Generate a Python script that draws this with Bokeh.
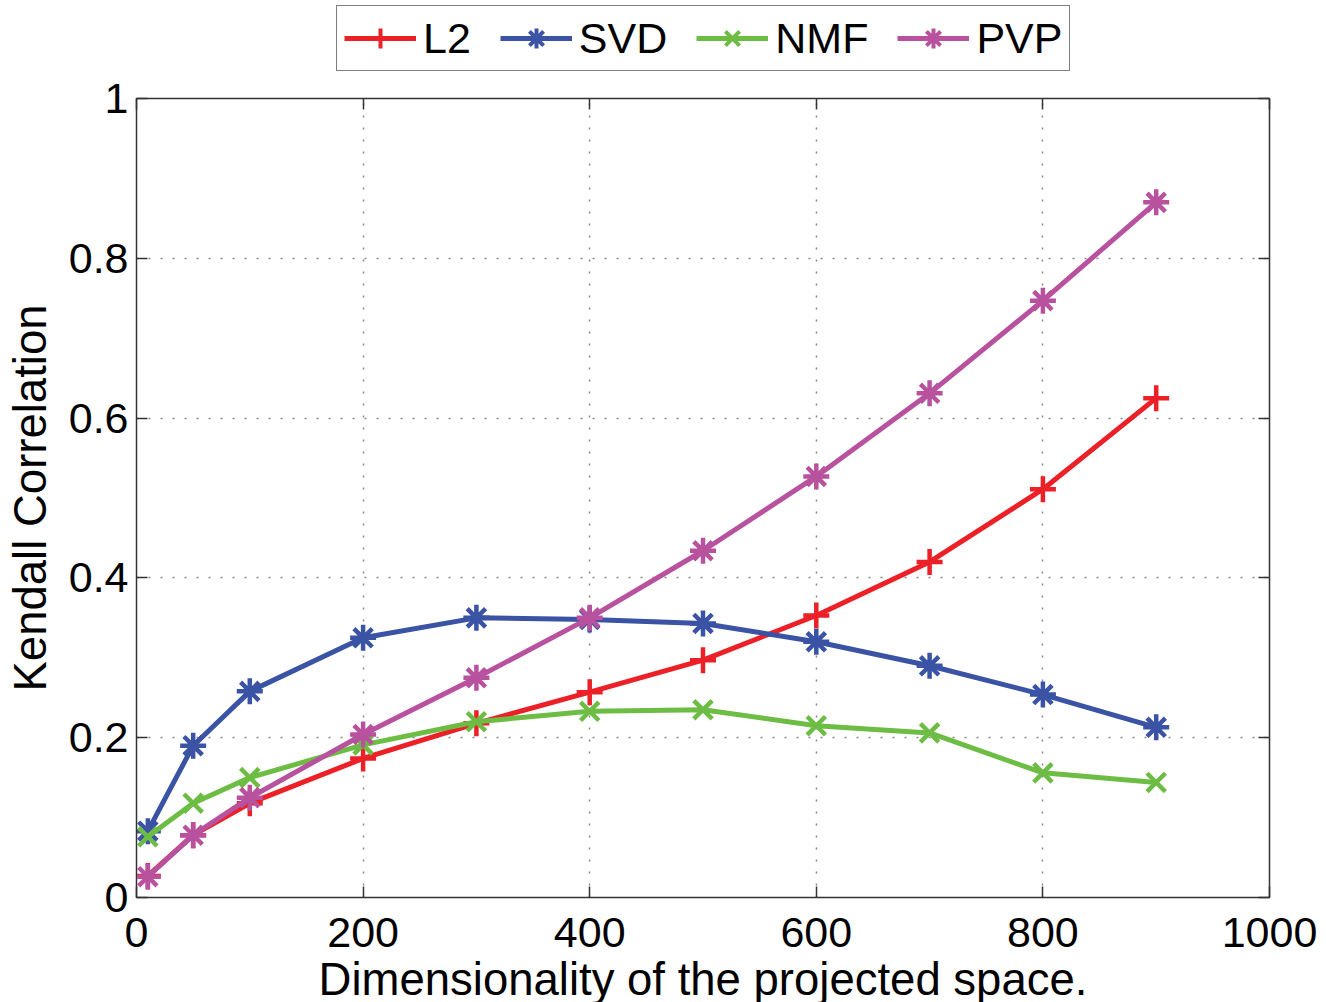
from bokeh.plotting import figure
from bokeh.layouts import column
from bokeh.models import (Legend, LegendItem, FixedTicker, Range1d, LinearAxis,
                          CustomJSTickFormatter)
from bokeh.embed import file_html
from bokeh.resources import INLINE

dims = [10, 50, 100, 200, 300, 400, 500, 600, 700, 800, 900]
l2 = [0.027, 0.078, 0.118, 0.174, 0.218, 0.257, 0.297, 0.353, 0.420, 0.511, 0.625]
svd = [0.083, 0.190, 0.258, 0.325, 0.350, 0.348, 0.343, 0.320, 0.290, 0.254, 0.213]
nmf = [0.076, 0.118, 0.150, 0.191, 0.220, 0.233, 0.235, 0.215, 0.206, 0.156, 0.144]
pvp = [0.026, 0.078, 0.125, 0.204, 0.275, 0.350, 0.434, 0.527, 0.631, 0.747, 0.870]

names = ["L2", "SVD", "NMF", "PVP"]
series = [l2, svd, nmf, pvp]
colors = ["#ec2027", "#3a53a4", "#6dbd45", "#b8529f"]
markers = ["cross", "asterisk", "x", "asterisk"]

x_ticks = [0, 200, 400, 600, 800, 1000]
y_ticks = [0, 0.2, 0.4, 0.6, 0.8, 1.0]

FONT = "Liberation Sans"
AXC = "#333333"

# ---- main plot ----
p = figure(frame_width=1133, frame_height=799,
           x_range=Range1d(0, 1000), y_range=Range1d(0, 1),
           output_backend="svg", toolbar_location=None,
           min_border_left=136, min_border_right=57, min_border_top=25,
           min_border_bottom=105, background_fill_color="white",
           border_fill_color="white")
p.outline_line_color = AXC
p.outline_line_width = 1.5

for ax in (p.xaxis[0], p.yaxis[0]):
    ax.major_label_text_font = FONT
    ax.major_label_text_font_size = "43px"
    ax.major_label_text_color = "black"
    ax.axis_label_text_font = FONT
    ax.axis_label_text_font_size = "45.5px"
    ax.axis_label_text_font_style = "normal"
    ax.axis_label_text_color = "black"
    ax.major_tick_in = 11
    ax.major_tick_out = 0
    ax.minor_tick_line_color = None
    ax.axis_line_color = AXC
    ax.major_tick_line_color = AXC
    ax.major_tick_line_width = 1.5

p.xaxis[0].ticker = FixedTicker(ticks=x_ticks)
p.yaxis[0].ticker = FixedTicker(ticks=y_ticks)
p.xaxis[0].formatter = CustomJSTickFormatter(code="return String(Math.round(tick));")
p.yaxis[0].formatter = CustomJSTickFormatter(code="return String(Number(tick.toFixed(1)));")
p.xaxis[0].axis_label = "Dimensionality of the projected space."
p.yaxis[0].axis_label = "Kendall Correlation"
p.xaxis[0].major_label_standoff = 20
p.xaxis[0].axis_label_standoff = 4
p.yaxis[0].major_label_standoff = 8
p.yaxis[0].axis_label_standoff = 10

# inward ticks on the top and right edges (box style), no labels
blank = CustomJSTickFormatter(code="return '';")
for loc, tk in (("right", y_ticks), ("above", x_ticks)):
    a = LinearAxis(ticker=FixedTicker(ticks=tk), formatter=blank,
                   major_tick_in=11, major_tick_out=0, minor_tick_line_color=None,
                   axis_line_color=None, major_label_standoff=0,
                   major_tick_line_color=AXC, major_tick_line_width=1.5)
    p.add_layout(a, loc)

p.xgrid.ticker = FixedTicker(ticks=x_ticks[1:-1])
p.ygrid.ticker = FixedTicker(ticks=y_ticks[1:-1])
for g in (p.xgrid[0], p.ygrid[0]):
    g.grid_line_color = "#888888"
    g.grid_line_dash = "2 10"
    g.grid_line_width = 1.5

for name, ys, c, m in zip(names, series, colors, markers):
    p.line(dims, ys, line_color=c, line_width=5)
    p.scatter(dims, ys, marker=m, size=26, line_color=c, fill_color=c, line_width=4.5)

# ---- legend strip (its own figure; data lies outside its view) ----
lg = figure(width=1326, height=73, x_range=Range1d(0, 1000), y_range=Range1d(10, 11),
            output_backend="svg", toolbar_location=None, min_border=0,
            x_axis_type=None, y_axis_type=None, background_fill_color="white",
            border_fill_color="white")
lg.grid.visible = False
lg.outline_line_color = None
items = []
for name, ys, c, m in zip(names, series, colors, markers):
    r1 = lg.line(dims, ys, line_color=c, line_width=5)
    r2 = lg.scatter(dims, ys, marker=m, size=26, line_color=c, fill_color=c, line_width=4)
    items.append(LegendItem(label=name, renderers=[r1, r2]))

legend = Legend(items=items, orientation="horizontal", location=(200, 2),
                label_text_font=FONT, label_text_font_size="43px",
                label_text_color="black", glyph_width=72, glyph_height=50,
                label_standoff=7, spacing=29, padding=7, margin=0,
                border_line_color="black", border_line_width=1.5,
                background_fill_color="white", background_fill_alpha=1.0)
lg.add_layout(legend, "center")

layout = column(lg, p, spacing=0)
open("out.html", "w").write(file_html(layout, INLINE))
